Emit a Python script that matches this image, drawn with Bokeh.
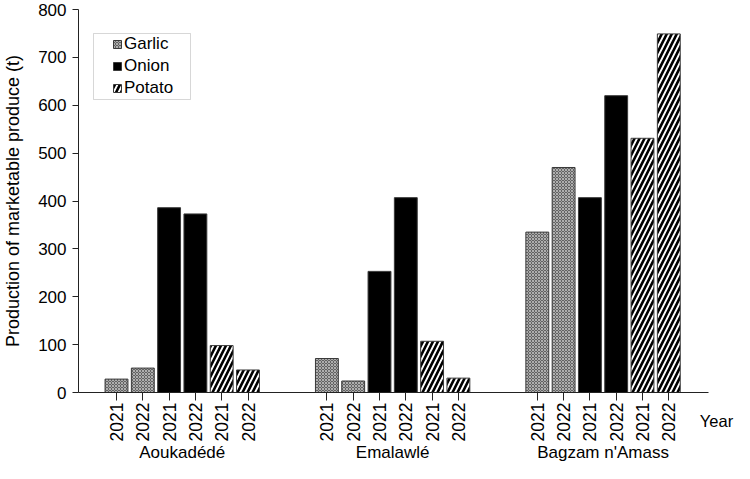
from math import pi
from bokeh.plotting import figure
from bokeh.models import (ColumnDataSource, FixedTicker, LinearAxis,
                          Legend, LegendItem, Range1d, BoxAnnotation)
from bokeh.embed import file_html
from bokeh.resources import INLINE

# ---------------- data ----------------
sites = ["Aoukadédé", "Emalawlé", "Bagzam n'Amass"]
crops = ["Garlic", "Onion", "Potato"]
years = ["2021", "2022"]
garlic = [[28, 51], [71, 24], [335, 470]]
onion = [[386, 373], [253, 407], [407, 620]]
potato = [[98, 47], [107, 30], [531, 749]]
y_ticks = [0, 100, 200, 300, 400, 500, 600, 700, 800]
x_title = "Year"
y_title = "Production of marketable produce (t)"

values = {"Garlic": garlic, "Onion": onion, "Potato": potato}

# slot layout: 6 bars per site, gap of 2 slots between sites
def slot(si, ci, yi):
    return si * 8 + ci * 2 + yi

FONT = "Liberation Sans"
W, H = 734, 463

# frame geometry (canvas pixels) used only for decoration placement
FL, FR, FT, FB = 78, 716, 9, 392
AXIS_END = 708          # where the x axis line stops
SLOT_PX = 26.3
X0 = -(116 - FL) / SLOT_PX
X1 = X0 + (FR - FL) / SLOT_PX
YS = (FB - FT) / 800.0
def px2x(px):
    return X0 + (px - FL) / SLOT_PX
def px2y(py):
    return (FB - py) / YS

p = figure(width=W, height=H, output_backend="svg", toolbar_location=None,
           x_range=Range1d(X0, X1), y_range=Range1d(0, 800),
           min_border_left=FL, min_border_right=W - FR, min_border_top=FT,
           min_border_bottom=H - FB)
p.outline_line_color = None
p.xgrid.visible = False
p.ygrid.visible = False
p.background_fill_color = "white"
p.border_fill_color = "white"

styles = {
    "Garlic": dict(fill_color="#626262", hatch_pattern="x", hatch_color="#d0d0d0",
                   hatch_scale=3, hatch_weight=0.7),
    "Onion": dict(fill_color="black"),
    "Potato": dict(fill_color="white", hatch_pattern="/", hatch_color="black",
                   hatch_scale=10, hatch_weight=2.6),
}

renderers = {}
for ci, crop in enumerate(crops):
    xs, tops = [], []
    for si in range(len(sites)):
        for yi in range(len(years)):
            xs.append(slot(si, ci, yi))
            tops.append(values[crop][si][yi])
    src = ColumnDataSource(dict(x=xs, top=tops))
    renderers[crop] = p.vbar(x="x", top="top", width=0.87, bottom=0, source=src,
                             line_color="#3a3a3a", line_width=1, **styles[crop])

# x axis: year ticks
ticks = []
overrides = {}
for si in range(len(sites)):
    for ci in range(len(crops)):
        for yi in range(len(years)):
            t = slot(si, ci, yi)
            ticks.append(t)
            overrides[t] = years[yi]
xa = p.xaxis[0]
xa.ticker = FixedTicker(ticks=ticks)
xa.major_label_overrides = overrides
xa.major_label_orientation = pi / 2
xa.major_label_text_font = FONT
xa.major_label_text_font_size = "17.5px"
xa.major_label_text_color = "black"
xa.major_tick_out = 8
xa.major_tick_in = 0
xa.minor_tick_line_color = None
xa.axis_line_color = "#222222"
xa.major_tick_line_color = "#222222"
xa.major_label_standoff = 2
xa.axis_label = None
xa.bounds = (X0, px2x(AXIS_END))

# second axis: site names, plus the "Year" title at its right end
centers = [si * 8 + 2.5 for si in range(len(sites))]
ga = LinearAxis(ticker=FixedTicker(ticks=centers),
                major_label_overrides={c: s for c, s in zip(centers, sites)},
                axis_line_color=None, major_tick_line_color=None,
                minor_tick_line_color=None, major_tick_out=0, major_tick_in=0,
                major_label_text_font=FONT, major_label_text_font_size="17px",
                major_label_text_color="black", major_label_standoff=-2,
                axis_label=x_title, axis_label_align="end",
                axis_label_standoff=-53, axis_label_text_font=FONT,
                axis_label_text_font_size="16.5px",
                axis_label_text_font_style="normal",
                axis_label_text_color="black")
p.add_layout(ga, "below")

# y axis
ya = p.yaxis[0]
ya.ticker = FixedTicker(ticks=y_ticks)
ya.axis_label = y_title
ya.axis_label_text_font = FONT
ya.axis_label_text_font_size = "18px"
ya.axis_label_text_font_style = "normal"
ya.axis_label_text_color = "black"
ya.axis_label_standoff = 12
ya.major_label_text_font = FONT
ya.major_label_text_font_size = "17px"
ya.major_label_text_color = "black"
ya.major_tick_out = 6
ya.major_tick_in = 0
ya.minor_tick_line_color = None
ya.axis_line_color = "#222222"
ya.major_tick_line_color = "#222222"
ya.major_label_standoff = 6

# legend
legend = Legend(items=[LegendItem(label=c, renderers=[renderers[c]]) for c in crops],
                location=(112 - FL, FB - 99), padding=0, spacing=0, margin=0,
                label_height=22, glyph_height=10, glyph_width=10, label_standoff=2,
                label_text_font=FONT, label_text_font_size="17px",
                label_text_color="black",
                border_line_color=None, background_fill_alpha=0)
p.add_layout(legend)
p.add_layout(BoxAnnotation(left=px2x(93), right=px2x(190), top=px2y(33), bottom=px2y(99),
                           fill_color=None, fill_alpha=0, line_color="#7a7a7a",
                           line_width=1))

open("out.html", "w").write(file_html(p, INLINE))
